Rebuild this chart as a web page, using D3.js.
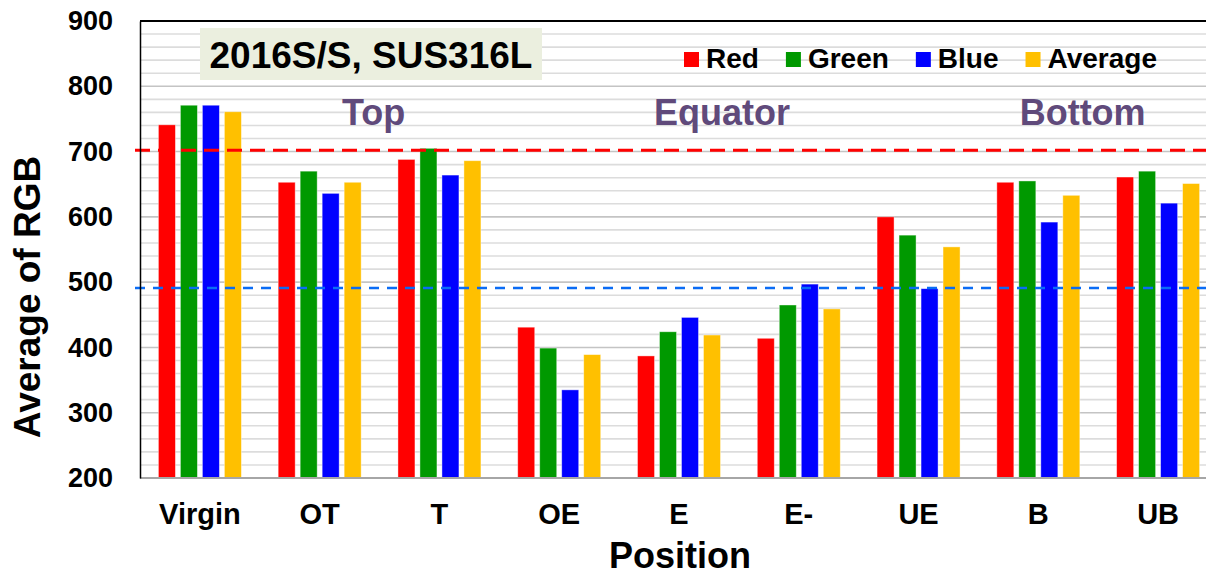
<!DOCTYPE html>
<html>
<head>
<meta charset="utf-8">
<script src="https://cdn.jsdelivr.net/npm/d3@7"></script>
<style>
  body { margin: 0; background: #fff; }
  svg { font-family: "Liberation Sans", Arial, sans-serif; font-weight: bold; }
</style>
</head>
<body>
<svg id="chart"></svg>
<script>
/// DATA ////////////////////////////////////////////////////////////////////////////////
var positions = ["Virgin", "OT", "T", "OE", "E", "E-", "UE", "B", "UB"];
var seriesNames = ["Red", "Green", "Blue", "Average"];
var seriesColors = ["#ff0000", "#009900", "#0000ff", "#ffc000"];
var redValues     = [741, 653, 688, 431, 387, 414, 600, 653, 661];
var greenValues   = [771, 670, 705, 399, 424, 465, 572, 655, 670];
var blueValues    = [771, 636, 664, 335, 446, 497, 490, 592, 621];
var averageValues = [761, 653, 686, 389, 419, 459, 554, 633, 651];
var yTicks = [200, 300, 400, 500, 600, 700, 800, 900];
var redRefLine = 702;
var blueRefLine = 491;
var regionLabels = ["Top", "Equator", "Bottom"];
var chartTitle = "2016S/S, SUS316L";

/// SETUP ///////////////////////////////////////////////////////////////////////////////
var W = 1206, H = 576;
var LEFT = 140, TOP = 21, RIGHT_EDGE = 1218, BOTTOM = 478;
var FONT = "'Liberation Sans', Arial, sans-serif";

var svg = d3.select("#chart").attr("width", W).attr("height", H);

var x0 = d3.scaleBand().domain(positions).range([LEFT, RIGHT_EDGE]);
var x1 = d3.scaleBand().domain(seriesNames).range([-44, 44])
    .paddingInner(0.227).paddingOuter(0.114);
var y = d3.scaleLinear().domain([200, 900]).range([BOTTOM, TOP]);
var color = d3.scaleOrdinal().domain(seriesNames).range(seriesColors);

var table = positions.map(function (p, i) {
    return { pos: p, values: [redValues[i], greenValues[i], blueValues[i], averageValues[i]] };
});

// grid lines every 20, a bit darker at every 100
svg.append("g").selectAll("line")
    .data(d3.range(220, 901, 20))
    .enter().append("line")
    .attr("x1", LEFT).attr("x2", W)
    .attr("y1", function (d) { return y(d); })
    .attr("y2", function (d) { return y(d); })
    .attr("stroke", function (d) { return d % 100 === 0 ? "#c4c4c4" : "#dcdcdc"; })
    .attr("stroke-width", 1.6);

// title box
svg.append("rect").attr("x", 200).attr("y", 28).attr("width", 342).attr("height", 52)
    .attr("fill", "#ebefdf");
svg.append("text").attr("x", 371).attr("y", 68).attr("text-anchor", "middle")
    .style("font-size", "37px").attr("fill", "#000").text(chartTitle);

// region labels (Top / Equator / Bottom), placed over their groups of positions
var regionX = [x0("OT") + x0.bandwidth() * 0.95,
               x0("E") + x0.bandwidth() * 0.86,
               x0("B") + x0.bandwidth() * 0.87];
svg.selectAll(".region")
    .data(regionLabels)
    .enter().append("text")
    .attr("class", "region")
    .attr("x", function (d, i) { return regionX[i]; })
    .attr("y", 125)
    .attr("text-anchor", "middle")
    .attr("fill", "#604a7b")
    .style("font-size", "36px")
    .text(function (d) { return d; });

// bars
var groups = svg.append("g").selectAll("g")
    .data(table)
    .enter().append("g")
    .attr("transform", function (d) { return "translate(" + (x0(d.pos) + x0.bandwidth() / 2) + ",0)"; });

groups.selectAll("rect")
    .data(function (d) { return d.values.map(function (v, i) { return { key: seriesNames[i], value: v }; }); })
    .enter().append("rect")
    .attr("x", function (d) { return x1(d.key); })
    .attr("y", function (d) { return y(d.value); })
    .attr("width", x1.bandwidth())
    .attr("height", function (d) { return y(200) - y(d.value); })
    .attr("fill", function (d) { return color(d.key); })
    .attr("stroke", "#ffffff")
    .attr("stroke-opacity", 0.5)
    .attr("stroke-width", 0.8);

// reference lines
svg.append("line")
    .attr("x1", 135).attr("x2", W)
    .attr("y1", y(redRefLine)).attr("y2", y(redRefLine))
    .attr("stroke", "#ff0000").attr("stroke-width", 3)
    .attr("stroke-dasharray", "15,8");
svg.append("line")
    .attr("x1", 135).attr("x2", W)
    .attr("y1", y(blueRefLine)).attr("y2", y(blueRefLine))
    .attr("stroke", "#0a6cf5").attr("stroke-width", 2.5)
    .attr("stroke-dasharray", "10,8");

// frame: top border and bottom axis line
svg.append("line").attr("x1", LEFT).attr("x2", W).attr("y1", TOP).attr("y2", TOP)
    .attr("stroke", "#000").attr("stroke-width", 2);
svg.append("line").attr("x1", LEFT).attr("x2", W).attr("y1", BOTTOM).attr("y2", BOTTOM)
    .attr("stroke", "#a6a6a6").attr("stroke-width", 2);

var yAxis = svg.append("g")
    .attr("transform", "translate(" + LEFT + ",0)")
    .call(d3.axisLeft(y).tickValues(yTicks).tickSize(0).tickPadding(27));
yAxis.select(".domain").attr("stroke", "#000").attr("stroke-width", 1.5);
yAxis.selectAll("text").style("font-size", "27px").style("font-weight", "bold")
    .style("font-family", FONT).attr("fill", "#000");

var xAxis = svg.append("g")
    .attr("transform", "translate(0," + BOTTOM + ")")
    .call(d3.axisBottom(x0).tickSize(0).tickPadding(25));
xAxis.select(".domain").remove();
xAxis.selectAll("text").style("font-size", "29px").style("font-weight", "bold")
    .style("font-family", FONT).attr("fill", "#000");

// axis titles
svg.append("text")
    .attr("transform", "translate(40,297) rotate(-90)")
    .attr("text-anchor", "middle")
    .style("font-size", "37px")
    .text("Average of RGB");
svg.append("text")
    .attr("x", 680).attr("y", 568)
    .attr("text-anchor", "middle")
    .style("font-size", "36px")
    .text("Position");

// legend, laid out left to right from measured label widths
var legend = svg.append("g").attr("transform", "translate(684,52)");
var lx = 0;
seriesNames.forEach(function (name) {
    var item = legend.append("g").attr("transform", "translate(" + lx + ",0)");
    item.append("rect").attr("width", 15).attr("height", 15).attr("fill", color(name));
    var t = item.append("text").attr("x", 22).attr("y", 16)
        .style("font-size", "28px").text(name);
    lx += 22 + t.node().getComputedTextLength() + 27;
});
</script>
</body>
</html>
